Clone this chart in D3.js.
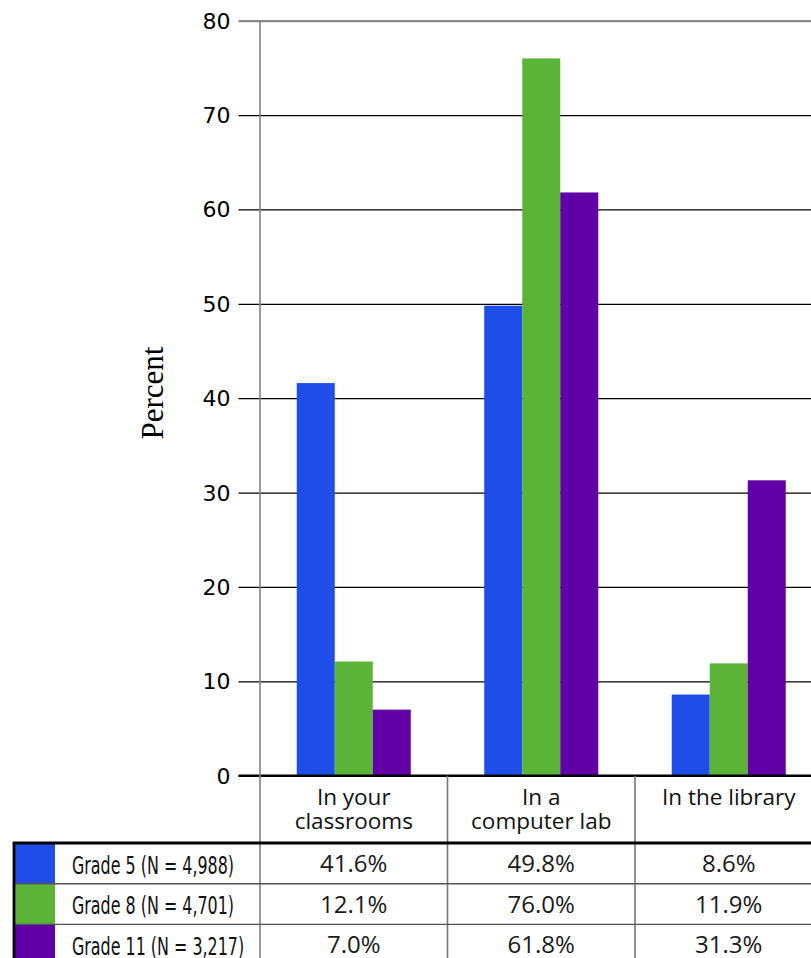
<!DOCTYPE html>
<html>
<head>
<meta charset="utf-8">
<script src="https://cdn.jsdelivr.net/npm/d3@7"></script>
<style>
  html, body { margin: 0; padding: 0; background: #fff; }
  svg { display: block; }
</style>
</head>
<body>
<svg id="chart" width="811" height="958"></svg>
<script>
// ---- data ----
const categories = ["In your classrooms", "In a computer lab", "In the library"];
const categoryLines = [["In your", "classrooms"], ["In a", "computer lab"], ["In the library"]];
const grades = ["Grade 5 (N = 4,988)", "Grade 8 (N = 4,701)", "Grade 11 (N = 3,217)"];
const grade5 = [41.6, 49.8, 8.6];
const grade8 = [12.1, 76.0, 11.9];
const grade11 = [7.0, 61.8, 31.3];
const gradeColors = ["#1f4de8", "#5bb437", "#6200a8"];
const yTicks = [0, 10, 20, 30, 40, 50, 60, 70, 80];
const yLabel = "Percent";

const series = [grade5, grade8, grade11];

// ---- layout ----
const W = 811, H = 958;
const axisX = 260;
const bandW = 187.5;
const y0 = 775.7, yTop = 20.7;
const gridLeft = 238.5;
const tickLabelRight = 230.5;
const tableTop = 843;
const rowH = 40.7;
const tableLeft = 14;

const svg = d3.select("#chart");

const x = d3.scaleBand().domain(categories).range([axisX, axisX + bandW * categories.length]).padding(0);
const xInner = d3.scaleBand().domain(grades).range([0, x.bandwidth()]).paddingInner(0).paddingOuter(0.967);
const y = d3.scaleLinear().domain([0, 80]).range([y0, yTop]);

// gridlines + tick labels via axis
const axis = d3.axisLeft(y)
  .tickValues(yTicks)
  .tickSize(W - gridLeft)
  .tickPadding(gridLeft - tickLabelRight);
const gAxis = svg.append("g").attr("transform", `translate(${W},0)`).call(axis);
gAxis.select(".domain").remove();
gAxis.selectAll(".tick text")
  .attr("dy", null)
  .attr("dominant-baseline", "central")
  .style("font-family", "'DejaVu Sans', sans-serif")
  .style("font-size", "22px")
  .attr("fill", "#000");
gAxis.selectAll(".tick line")
  .attr("stroke", d => d === 80 ? "#888" : "#000")
  .attr("stroke-width", d => d === 80 ? 2.2 : 1.3);

// bars
const groups = svg.append("g").selectAll("g")
  .data(categories)
  .join("g")
  .attr("transform", d => `translate(${x(d)},0)`);
groups.selectAll("rect")
  .data((c, ci) => grades.map((g, gi) => ({ g, gi, v: series[gi][ci] })))
  .join("rect")
  .attr("x", d => xInner(d.g))
  .attr("width", xInner.bandwidth())
  .attr("y", d => y(d.v))
  .attr("height", d => y(0) - y(d.v))
  .attr("fill", d => gradeColors[d.gi]);

// zero baseline
svg.append("line")
  .attr("x1", gridLeft).attr("x2", W)
  .attr("y1", y(0)).attr("y2", y(0))
  .attr("stroke", "#000").attr("stroke-width", 2.6);

// y axis line (extends down through the table)
svg.append("line")
  .attr("x1", axisX).attr("x2", axisX)
  .attr("y1", y(80)).attr("y2", H)
  .attr("stroke", "#808080").attr("stroke-width", 1.6);

// y label
svg.append("text")
  .attr("transform", `translate(163,393) rotate(-90)`)
  .attr("text-anchor", "middle")
  .style("font-family", "'Liberation Serif', 'Times New Roman', serif")
  .style("font-size", "31px")
  .attr("fill", "#000")
  .text(yLabel);

// ---- table ----
categories.slice(1).forEach(c => {
  svg.append("line")
    .attr("x1", x(c)).attr("x2", x(c))
    .attr("y1", y(0)).attr("y2", H)
    .attr("stroke", "#777").attr("stroke-width", 1.6);
});

// header labels (one text per line)
categories.forEach((c, i) => {
  categoryLines[i].forEach((line, li) => {
    svg.append("text")
      .attr("x", x(c) + x.bandwidth() / 2)
      .attr("y", 804.5 + li * 24)
      .attr("text-anchor", "middle")
      .style("font-family", "'Open Sans', sans-serif")
      .style("font-size", "22.5px")
      .attr("fill", "#111")
      .text(line);
  });
});

// rows
const legendTexts = [];
grades.forEach((g, gi) => {
  const top = tableTop + gi * rowH;
  svg.append("rect")
    .attr("x", tableLeft).attr("y", top)
    .attr("width", 55 - tableLeft).attr("height", rowH)
    .attr("fill", gradeColors[gi]);
  const lt = svg.append("text")
    .attr("x", 72).attr("y", top + 30.5)
    .style("font-family", "'DejaVu Sans Condensed', 'DejaVu Sans', sans-serif")
    .style("font-stretch", "condensed")
    .style("font-size", "24px")
    .attr("fill", "#111")
    .text(g);
  legendTexts.push(lt);
  categories.forEach((c, ci) => {
    svg.append("text")
      .attr("x", x(c) + x.bandwidth() / 2)
      .attr("y", top + 29)
      .attr("text-anchor", "middle")
      .style("font-family", "'Open Sans', sans-serif")
      .style("font-size", "24px")
      .attr("fill", "#1a1a1a")
      .text(series[gi][ci].toFixed(1) + "%");
  });
  if (gi > 0) {
    svg.append("line")
      .attr("x1", tableLeft).attr("x2", W)
      .attr("y1", top).attr("y2", top)
      .attr("stroke", "#555").attr("stroke-width", 1.4);
  }
});
// condense legend labels to the narrow width of the original typeface
const targetFirst = 162;
const firstLen = legendTexts[0].node().getComputedTextLength();
const squeeze = Math.min(1, targetFirst / firstLen);
legendTexts.forEach(t => {
  const len = t.node().getComputedTextLength();
  t.attr("textLength", len * squeeze).attr("lengthAdjust", "spacingAndGlyphs");
});

// table top border and left border
svg.append("line")
  .attr("x1", tableLeft - 1.3).attr("x2", W)
  .attr("y1", tableTop).attr("y2", tableTop)
  .attr("stroke", "#000").attr("stroke-width", 2.8);
svg.append("line")
  .attr("x1", tableLeft).attr("x2", tableLeft)
  .attr("y1", tableTop).attr("y2", H)
  .attr("stroke", "#000").attr("stroke-width", 2.8);
</script>
</body>
</html>
